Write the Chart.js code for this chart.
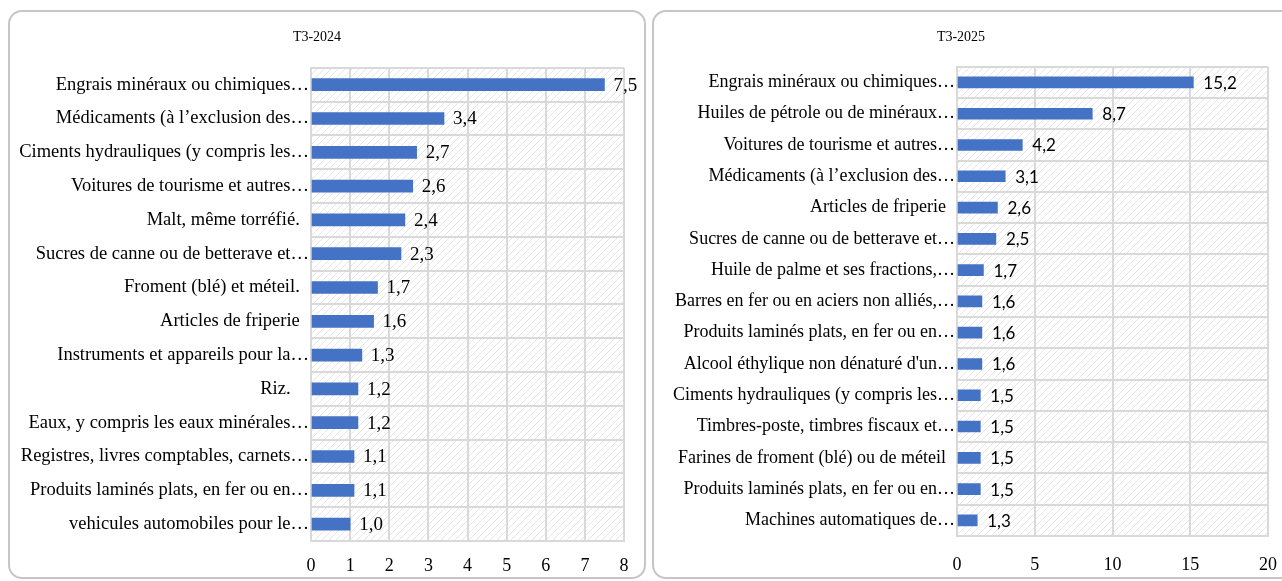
<!DOCTYPE html>
<html>
<head>
<meta charset="utf-8">
<script src="https://cdn.jsdelivr.net/npm/chart.js@4"></script>
<style>
body{margin:0;background:#fff;width:1282px;height:581px;overflow:hidden;position:relative;}
.box{position:absolute;box-sizing:border-box;border:2px solid #c6c6c6;border-radius:14px;background:#fff;}
canvas{position:absolute;}
</style>
</head>
<body>
<div class="box" style="left:8px;top:10px;width:638px;height:569px;"></div>
<div class="box" style="left:652px;top:10px;width:650px;height:569px;"></div>
<canvas id="chart2024" width="634" height="566" style="left:10px;top:12px;"></canvas>
<canvas id="chart2025" width="628" height="566" style="left:654px;top:12px;"></canvas>
<script>
// T3-2024
let labels2024 = [
"Engrais minéraux ou chimiques…",
"Médicaments (à l’exclusion des…",
"Ciments hydrauliques (y compris les…",
"Voitures de tourisme et autres…",
"Malt, même torréfié.  ",
"Sucres de canne ou de betterave et…",
"Froment (blé) et méteil.  ",
"Articles de friperie  ",
"Instruments et appareils pour la…",
"Riz.    ",
"Eaux, y compris les eaux minérales…",
"Registres, livres comptables, carnets…",
"Produits laminés plats, en fer ou en…",
"vehicules automobiles pour le…"
];
let values2024 = [7.5,3.4,2.7,2.6,2.4,2.3,1.7,1.6,1.3,1.2,1.2,1.1,1.1,1.0];
let ticks2024 = [0,1,2,3,4,5,6,7,8];

// T3-2025
let labels2025 = [
"Engrais minéraux ou chimiques…",
"Huiles de pétrole ou de minéraux…",
"Voitures de tourisme et autres…",
"Médicaments (à l’exclusion des…",
"Articles de friperie  ",
"Sucres de canne ou de betterave et…",
"Huile de palme et ses fractions,…",
"Barres en fer ou en aciers non alliés,…",
"Produits laminés plats, en fer ou en…",
"Alcool éthylique non dénaturé d'un…",
"Ciments hydrauliques (y compris les…",
"Timbres-poste, timbres fiscaux et…",
"Farines de froment (blé) ou de méteil  ",
"Produits laminés plats, en fer ou en…",
"Machines automatiques de…"
];
let values2025 = [15.2,8.7,4.2,3.1,2.6,2.5,1.7,1.6,1.6,1.6,1.5,1.5,1.5,1.5,1.3];
let ticks2025 = [0,5,10,15,20];

const serif = "'Liberation Serif', 'Times New Roman', serif";

function makeHatch(){
let c = document.createElement("canvas");
c.width = 7; c.height = 7;
let g = c.getContext("2d");
g.strokeStyle = "#e6e6e6";
g.lineWidth = 1;
g.beginPath();
g.moveTo(0,7); g.lineTo(7,0);
g.moveTo(-1,1); g.lineTo(1,-1);
g.moveTo(6,8); g.lineTo(8,6);
g.stroke();
return c;
}

const hatchPlugin = {
id:"hatch",
beforeDraw(chart){
let a = chart.chartArea;
let ctx = chart.ctx;
ctx.save();
ctx.fillStyle = ctx.createPattern(makeHatch(),"repeat");
ctx.fillRect(a.left,a.top,a.right-a.left,a.bottom-a.top);
ctx.restore();
}
};

const valuePlugin = {
id:"values",
afterDatasetsDraw(chart,args,opts){
let ctx = chart.ctx;
let meta = chart.getDatasetMeta(0);
let data = chart.data.datasets[0].data;
ctx.save();
ctx.font = opts.font;
ctx.fillStyle = "#000";
ctx.textBaseline = "middle";
ctx.textAlign = "left";
meta.data.forEach((bar,i) => {
ctx.fillText(data[i].toFixed(1).replace(".",","), bar.x + opts.gap, bar.y + 1);
});
ctx.restore();
}
};

function drawChart(id,title,labels,values,ticks,cfg){
let tickList = ticks.slice();
new Chart(document.getElementById(id),{
type:"bar",
data:{
labels:labels,
datasets:[{
data:values,
backgroundColor:"#4472C4",
borderWidth:0,
barThickness:cfg.bar
}]
},
options:{
indexAxis:"y",
responsive:false,
animation:false,
layout:{padding:{left:0,right:cfg.right,top:0,bottom:0}},
plugins:{
legend:{display:false},
tooltip:{enabled:false},
title:{
display:true,
text:title,
color:"#000",
font:{family:serif,size:14,weight:"normal"},
padding:{top:17,bottom:cfg.titleBottom}
},
values:{font:cfg.valueFont,gap:cfg.gap}
},
scales:{
x:{
min:tickList[0],
max:tickList[tickList.length-1],
afterBuildTicks:(scale) => { scale.ticks = tickList.map(v => ({value:v})); },
afterFit:(scale) => { scale.height = cfg.xHeight; },
grid:{color:"#d9d9d9",lineWidth:2,drawTicks:true,tickLength:cfg.tickLen,tickColor:"rgba(0,0,0,0)"},
border:{color:"#d9d9d9",width:2},
ticks:{color:"#000",padding:4,font:{family:serif,size:18}}
},
y:{
afterFit:(scale) => { scale.width = cfg.yWidth; },
grid:{color:"#d9d9d9",lineWidth:2,drawTicks:false,offset:true},
border:{color:"#d9d9d9",width:2},
ticks:{color:"#000",padding:2,autoSkip:false,font:{family:serif,size:cfg.labelSize}}
}
}
},
plugins:[hatchPlugin,valuePlugin]
});
}

drawChart("chart2024","T3-2024",labels2024,values2024,ticks2024,{
bar:12,right:20,titleBottom:22,xHeight:37,tickLen:10,yWidth:301,labelSize:18.5,
valueFont:"19px " + serif,gap:9
});

drawChart("chart2025","T3-2025",labels2025,values2025,ticks2025,{
bar:11,right:14,titleBottom:21,xHeight:42,tickLen:14,yWidth:303,labelSize:18,
valueFont:"17px Lato, 'Open Sans', sans-serif",gap:10
});
</script>
</body>
</html>
